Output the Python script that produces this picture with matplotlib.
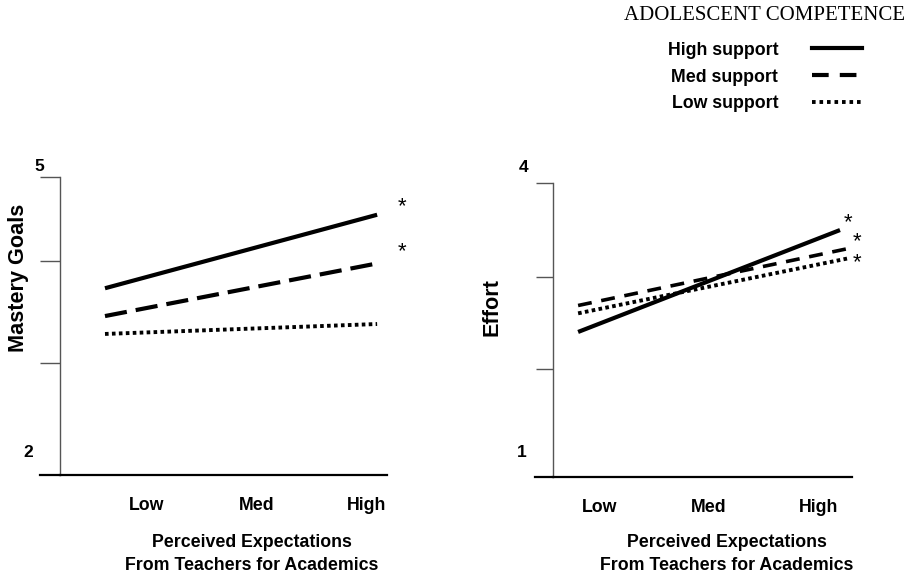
import matplotlib
matplotlib.use('Agg')
import matplotlib.pyplot as plt
from matplotlib.lines import Line2D

plt.rcParams['font.family'] = ['Liberation Sans', 'DejaVu Sans']
plt.rcParams['lines.scale_dashes'] = False

W, H = 913, 578

CATS = ['Low', 'Med', 'High']
SERIES = ['High support', 'Med support', 'Low support']

# left panel: Mastery Goals (line start / end as drawn)
mastery_x = [0.62, 3.10]
mastery_high = [3.88, 4.62]
mastery_med = [3.60, 4.13]
mastery_low = [3.42, 3.52]
mastery_stars = [(3.33, 4.70), (3.33, 4.25)]

# right panel: Effort
effort_x_high = [0.80, 3.20]
effort_x_other = [0.80, 3.27]
effort_high = [2.48, 3.52]
effort_med = [2.75, 3.33]
effort_low = [2.67, 3.23]
effort_stars = [(3.27, 3.60), (3.36, 3.40), (3.36, 3.19)]

FS_TICK = 12.8
FS_YLAB = 15.6
FS_NUM = 12.5

STYLE_SOLID = dict(color='black', lw=3.0, solid_capstyle='butt')
STYLE_DOT = dict(color='black', lw=2.8, dashes=(2.6, 2.4), dash_capstyle='butt')


def px_axes(x0, x1, ytop, ybot):
    return [x0 / W, 1 - ybot / H, (x1 - x0) / W, (ybot - ytop) / H]


def style_axes(ax, width_px, ext_px, ticklen, yticks):
    for s in ['top', 'right']:
        ax.spines[s].set_visible(False)
    ax.spines['left'].set_color('#555555')
    ax.spines['left'].set_linewidth(1.0)
    ax.spines['bottom'].set_color('black')
    ax.spines['bottom'].set_linewidth(1.6)
    # bottom axis line reaches a bit left of the y axis
    ax.plot([-ext_px / width_px, 0], [0, 0], transform=ax.transAxes,
            color='black', lw=1.6, clip_on=False)
    ax.set_yticks(yticks)
    ax.tick_params(axis='y', direction='out', length=ticklen, width=1.0,
                   color='#555555', labelleft=False)
    ax.set_xticks([1, 2, 3])
    ax.set_xticklabels(CATS, fontsize=FS_TICK, fontweight='bold')
    ax.tick_params(axis='x', length=0, pad=16)


fig = plt.figure(figsize=(W / 100, H / 100), dpi=100)

# ── left: Mastery Goals ──────────────────────────────
ax1 = fig.add_axes(px_axes(60, 387, 177, 475))
ax1.set_xlim(0.21, 3.19)
ax1.set_ylim(2, 5)
style_axes(ax1, 327, 20, 14.4, [3.13, 4.15, 5])
ax1.plot(mastery_x, mastery_high, **STYLE_SOLID)
ax1.plot(mastery_x, mastery_med, color='black', lw=3.0, dashes=(16, 6.5))
ax1.plot(mastery_x, mastery_low, **STYLE_DOT)
for sx, sy in mastery_stars:
    ax1.text(sx, sy, '*', fontsize=16, ha='center', va='center', clip_on=False)
ax1.text(-0.064, 1.034, '5', transform=ax1.transAxes, fontsize=FS_NUM,
         fontweight='bold', ha='center', va='center')
ax1.text(-0.098, 0.074, '2', transform=ax1.transAxes, fontsize=FS_NUM,
         fontweight='bold', ha='center', va='center')
ax1.text(-0.128, 0.661, 'Mastery Goals', transform=ax1.transAxes, rotation=90,
         fontsize=FS_YLAB, fontweight='bold', ha='center', va='center')
ax1.text(0.587, -0.265, 'Perceived Expectations\nFrom Teachers for Academics',
         transform=ax1.transAxes, fontsize=FS_TICK, fontweight='bold',
         ha='center', va='center', linespacing=1.45)

# ── right: Effort ────────────────────────────────────
ax2 = fig.add_axes(px_axes(553, 852, 183, 477))
ax2.set_xlim(0.57, 3.31)
ax2.set_ylim(1, 4)
style_axes(ax2, 299, 18, 12.5, [2.1, 3.04, 4])
ax2.plot(effort_x_high, effort_high, **STYLE_SOLID)
ax2.plot(effort_x_other, effort_med, color='black', lw=2.6, dashes=(10, 7))
ax2.plot(effort_x_other, effort_low, **STYLE_DOT)
for sx, sy in effort_stars:
    ax2.text(sx, sy, '*', fontsize=16, ha='center', va='center', clip_on=False)
ax2.text(-0.100, 1.054, '4', transform=ax2.transAxes, fontsize=FS_NUM,
         fontweight='bold', ha='center', va='center')
ax2.text(-0.104, 0.082, '1', transform=ax2.transAxes, fontsize=FS_NUM,
         fontweight='bold', ha='center', va='center')
ax2.text(-0.204, 0.578, 'Effort', transform=ax2.transAxes, rotation=90,
         fontsize=FS_YLAB, fontweight='bold', ha='center', va='center')
ax2.text(0.582, -0.262, 'Perceived Expectations\nFrom Teachers for Academics',
         transform=ax2.transAxes, fontsize=FS_TICK, fontweight='bold',
         ha='center', va='center', linespacing=1.45)

# ── legend ───────────────────────────────────────────
handles = [
    Line2D([], [], color='black', lw=3.0),
    Line2D([], [], color='black', lw=3.0, dashes=(12, 8)),
    Line2D([], [], color='black', lw=2.8, dashes=(2.6, 2.8)),
]
leg = fig.legend(handles, SERIES, loc='upper right',
                 bbox_to_anchor=(914 / W, 1 + 3 / H), frameon=False,
                 markerfirst=False, handlelength=2.8, handletextpad=1.9,
                 labelspacing=0.56, borderpad=0,
                 prop={'size': FS_TICK, 'weight': 'bold'},
                 title='ADOLESCENT COMPETENCE',
                 title_fontproperties={'family': 'Liberation Serif', 'size': 15})
leg._legend_box.sep = 12

fig.savefig('out.png', dpi=100, facecolor='white')
